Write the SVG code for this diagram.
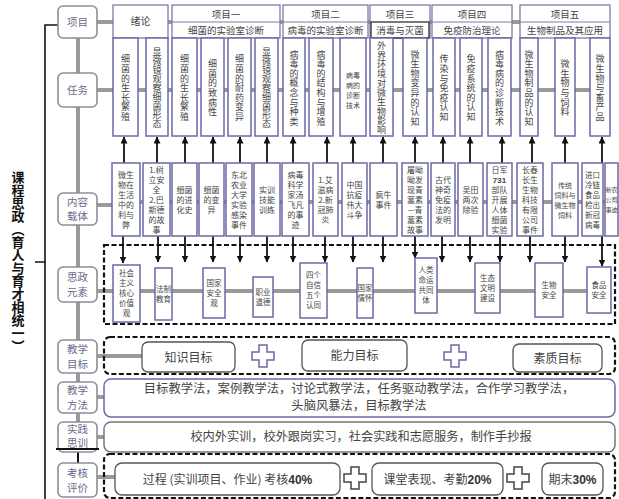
<svg xmlns="http://www.w3.org/2000/svg" width="619" height="499" viewBox="0 0 619 499">
<style>
.b{fill:#fff;stroke:#6b68a6;stroke-width:1.5}
.h{fill:#fff;stroke:#7d7aa8;stroke-width:1.3}
.n{fill:#fff;stroke:#8d8c9c;stroke-width:1.6}
.c{stroke:#9a9a9a;stroke-width:4;fill:none}
.a{stroke:#111;stroke-width:1.8;marker-end:url(#ah)}
.d{fill:none;stroke:#111;stroke-width:2.2;stroke-dasharray:5 2.5}
.k{fill:#fff;stroke:#555;stroke-width:1.3}
.t{font-family:"Noto Sans CJK SC","Noto Sans",sans-serif;fill:#444;text-anchor:middle}
.ln{font-family:"Noto Sans CJK SC","Noto Sans",sans-serif;fill:#6a6a8a;text-anchor:middle;font-size:10.5px}
.v{writing-mode:vertical-rl;font-size:9px;letter-spacing:0.6px}
.ct{font-size:8px}
.et{font-size:7.5px}
.pb{font-family:"Liberation Sans",Arial,sans-serif;font-weight:bold}
</style>
<defs>
<marker id="ah" markerUnits="userSpaceOnUse" markerWidth="7" markerHeight="7" refX="6.5" refY="3.5" orient="auto"><path d="M0,0 L7,3.5 L0,7 z" fill="#111"/></marker>
</defs>

<!-- title and brace -->
<g id="title">
<text x="18" y="262" font-family="'Noto Sans CJK SC',sans-serif" font-weight="bold" font-size="13" fill="#111" text-anchor="middle" style="writing-mode:vertical-rl">课程思政（育人与育才相统一）</text>
<path d="M58,25 H45 V499 M35,262 H45" fill="none" stroke="#111" stroke-width="1.6"/>
</g>

<!-- connectors -->
<g id="connectors">
<path class="c" d="M78,38 V449"/>
<path d="M78,449 V463 M56,449 H99" stroke="#111" stroke-width="2" fill="none"/>
<path class="c" d="M97,22 H520"/>
<path class="c" d="M97,90 H600"/>
<path class="c" d="M97,205 H112 M112,202 H605"/>
<path class="c" d="M97,291 H590"/>
<path class="c" d="M97,356 H142"/>
<path class="c" d="M97,397 H106"/>
<path class="c" d="M97,437 H106"/>
<path class="c" d="M97,477 H115"/>
<g id="up-arrows">
<line class="a" x1="124" y1="163" x2="124" y2="137"/>
<line class="a" x1="157" y1="163" x2="157" y2="137"/>
<line class="a" x1="185" y1="163" x2="185" y2="137"/>
<line class="a" x1="213" y1="163" x2="213" y2="137"/>
<line class="a" x1="240" y1="163" x2="240" y2="137"/>
<line class="a" x1="267" y1="163" x2="267" y2="137"/>
<line class="a" x1="293" y1="163" x2="293" y2="137"/>
<line class="a" x1="327" y1="163" x2="327" y2="137"/>
<line class="a" x1="353" y1="163" x2="353" y2="137"/>
<line class="a" x1="383" y1="163" x2="383" y2="137"/>
<line class="a" x1="415" y1="163" x2="415" y2="137"/>
<line class="a" x1="443" y1="163" x2="443" y2="137"/>
<line class="a" x1="470" y1="163" x2="470" y2="137"/>
<line class="a" x1="502" y1="163" x2="502" y2="137"/>
<line class="a" x1="532" y1="163" x2="532" y2="137"/>
<line class="a" x1="565" y1="163" x2="565" y2="137"/>
<line class="a" x1="602" y1="163" x2="602" y2="137"/>
</g>
<g id="down-arrows">
<line class="a" x1="123" y1="236" x2="123" y2="263"/>
<line class="a" x1="158" y1="236" x2="158" y2="262"/>
<line class="a" x1="185" y1="236" x2="185" y2="262"/>
<line class="a" x1="213" y1="236" x2="213" y2="262"/>
<line class="a" x1="240" y1="236" x2="240" y2="262"/>
<line class="a" x1="267" y1="236" x2="267" y2="262"/>
<line class="a" x1="293" y1="236" x2="293" y2="262"/>
<line class="a" x1="325" y1="236" x2="325" y2="262"/>
<line class="a" x1="353" y1="236" x2="353" y2="262"/>
<line class="a" x1="383" y1="236" x2="383" y2="262"/>
<line class="a" x1="415" y1="236" x2="415" y2="258"/>
<line class="a" x1="442" y1="236" x2="442" y2="262"/>
<line class="a" x1="470" y1="236" x2="470" y2="262"/>
<line class="a" x1="500" y1="236" x2="500" y2="262"/>
<line class="a" x1="530" y1="236" x2="530" y2="262"/>
<line class="a" x1="565" y1="236" x2="565" y2="262"/>
<line class="a" x1="602" y1="236" x2="602" y2="266"/>
</g>
</g>

<!-- left category nodes -->
<g id="n-xm"><rect class="n" x="58" y="6" width="39" height="32" rx="5"/><text class="ln" x="77.5" y="26">项目</text></g>
<g id="n-rw"><rect class="n" x="58" y="73" width="39" height="34" rx="5"/><text class="ln" x="77.5" y="94">任务</text></g>
<g id="n-nr"><rect class="n" x="58" y="193" width="39" height="32" rx="5"/><text class="ln" x="77.5" y="206">内容</text><text class="ln" x="77.5" y="220">载体</text></g>
<g id="n-sz"><rect class="n" x="58" y="267" width="39" height="35" rx="5"/><text class="ln" x="77.5" y="281">思政</text><text class="ln" x="77.5" y="296">元素</text></g>
<g id="n-mb"><rect class="n" x="58" y="340" width="39" height="33" rx="5"/><text class="ln" x="77.5" y="353">教学</text><text class="ln" x="77.5" y="368">目标</text></g>
<g id="n-ff"><rect class="n" x="58" y="382" width="39" height="31" rx="5"/><text class="ln" x="77.5" y="394">教学</text><text class="ln" x="77.5" y="409">方法</text></g>
<g id="n-sj"><rect class="n" x="58" y="422" width="39" height="30" rx="5"/><text class="ln" x="77.5" y="433"><tspan x="77.5">实践</tspan><tspan x="77.5" dy="14">思训</tspan></text></g>
<g id="n-kh"><rect class="n" x="58" y="463" width="39" height="34" rx="5"/><text class="ln" x="77.5" y="477">考核</text><text class="ln" x="77.5" y="492">评价</text></g>
<line x1="56" y1="449" x2="99" y2="449" stroke="#111" stroke-width="2"/>

<!-- project headers -->
<g id="h0"><rect class="h" x="113" y="5" width="55" height="33"/><text class="t" x="140.5" y="25" font-size="10">绪论</text></g>
<g id="h1"><rect class="h" x="172" y="5" width="108" height="33"/><line x1="172" y1="22" x2="280" y2="22" stroke="#7d7aa8"/><text class="t" x="226" y="18" font-size="9.5">项目一</text><text class="t" x="226" y="34" font-size="9.5">细菌的实验室诊断</text></g>
<g id="h2"><rect class="h" x="283" y="5" width="85" height="33"/><line x1="283" y1="22" x2="368" y2="22" stroke="#7d7aa8"/><text class="t" x="325.5" y="18" font-size="9.5">项目二</text><text class="t" x="325.5" y="34" font-size="9.5">病毒的实验室诊断</text></g>
<g id="h3"><rect class="h" x="370" y="5" width="60" height="33"/><rect x="371" y="22" width="58" height="16" fill="none" stroke="#333" stroke-width="1.3"/><text class="t" x="400" y="18" font-size="9.5">项目三</text><text class="t" x="400" y="34" font-size="9.5">消毒与灭菌</text></g>
<g id="h4"><rect class="h" x="432" y="5" width="80" height="33"/><line x1="432" y1="22" x2="512" y2="22" stroke="#7d7aa8"/><text class="t" x="472" y="18" font-size="9.5">项目四</text><text class="t" x="472" y="34" font-size="9.5">免疫防治理论</text></g>
<g id="h5"><rect class="h" x="520" y="5" width="90" height="33"/><line x1="520" y1="22" x2="610" y2="22" stroke="#7d7aa8"/><text class="t" x="565" y="18" font-size="9.5">项目五</text><text class="t" x="565" y="34" font-size="9.5">生物制品及其应用</text></g>

<!-- tasks -->
<g id="t1"><rect class="b" x="113" y="38" width="25" height="98"/><text class="t v" x="125.5" y="88">细菌的生长繁殖</text></g>
<g id="t2"><rect class="b" x="146" y="38" width="22" height="98"/><text class="t v" x="157" y="88" style="letter-spacing:0">显微镜观察细菌形态</text></g>
<g id="t3"><rect class="b" x="172" y="38" width="25" height="98"/><text class="t v" x="184.5" y="88">细菌的生长繁殖</text></g>
<g id="t4"><rect class="b" x="201" y="38" width="23" height="98"/><text class="t v" x="212.5" y="88">细菌的致病性</text></g>
<g id="t5"><rect class="b" x="228" y="38" width="23" height="98"/><text class="t v" x="239.5" y="88">细菌的耐药变异</text></g>
<g id="t6"><rect class="b" x="255" y="38" width="23" height="98"/><text class="t v" x="266.5" y="88" style="letter-spacing:0">显微镜观察细菌形态</text></g>
<g id="t7"><rect class="b" x="283" y="38" width="22" height="98"/><text class="t v" x="294" y="88">病毒的概念与种类</text></g>
<g id="t8"><rect class="b" x="309" y="38" width="24" height="98"/><text class="t v" x="321" y="88">病毒的结构与增殖</text></g>
<g id="t9"><rect class="b" x="340" y="38" width="26" height="98"/><text class="t" x="353" y="78" font-size="7"><tspan x="353">病毒</tspan><tspan x="353" dy="10">病的</tspan><tspan x="353" dy="10">诊断</tspan><tspan x="353" dy="10">技术</tspan></text></g>
<g id="t10"><rect class="b" x="370" y="38" width="23" height="98"/><text class="t v" x="381.5" y="88" style="letter-spacing:0.3px">外界环境对微生物影响</text></g>
<g id="t11"><rect class="b" x="403" y="38" width="24" height="98"/><text class="t v" x="415" y="88">微生物变异的认知</text></g>
<g id="t12"><rect class="b" x="433" y="38" width="22" height="98"/><text class="t v" x="444" y="88">传染与免疫认知</text></g>
<g id="t13"><rect class="b" x="460" y="38" width="22" height="98"/><text class="t v" x="471" y="88">免疫系统的认知</text></g>
<g id="t14"><rect class="b" x="488" y="38" width="23" height="98"/><text class="t v" x="499.5" y="88">病毒病的诊断技术</text></g>
<g id="t15"><rect class="b" x="520" y="38" width="18" height="98"/><text class="t v" x="529" y="88">微生物制品的认知</text></g>
<g id="t16"><rect class="b" x="555" y="38" width="20" height="98"/><text class="t v" x="565" y="88">微生物与饲料</text></g>
<g id="t17"><rect class="b" x="590" y="38" width="20" height="98"/><text class="t v" x="600" y="88">微生物与畜产品</text></g>

<!-- content carriers -->
<g id="c1"><rect class="b" x="112" y="163" width="28" height="73"/><text class="t ct" x="126" y="177.5"><tspan x="126">微生</tspan><tspan x="126" dy="10">物在</tspan><tspan x="126" dy="10">生活</tspan><tspan x="126" dy="10">中的</tspan><tspan x="126" dy="10">利与</tspan><tspan x="126" dy="10">弊</tspan></text></g>
<g id="c2"><rect class="b" x="143" y="163" width="27" height="73"/><text class="t ct" x="156.5" y="172.5"><tspan x="156.5">1.树</tspan><tspan x="156.5" dy="10">立安</tspan><tspan x="156.5" dy="10">全</tspan><tspan x="156.5" dy="10">2.巴</tspan><tspan x="156.5" dy="10">斯德</tspan><tspan x="156.5" dy="10">的故</tspan><tspan x="156.5" dy="10">事</tspan></text></g>
<g id="c3"><rect class="b" x="172" y="163" width="25" height="73"/><text class="t ct" x="184.5" y="192.5"><tspan x="184.5">细菌</tspan><tspan x="184.5" dy="10">的进</tspan><tspan x="184.5" dy="10">化史</tspan></text></g>
<g id="c4"><rect class="b" x="199" y="163" width="25" height="73"/><text class="t ct" x="211.5" y="192.5"><tspan x="211.5">细菌</tspan><tspan x="211.5" dy="10">的变</tspan><tspan x="211.5" dy="10">异</tspan></text></g>
<g id="c5"><rect class="b" x="226" y="163" width="26" height="73"/><text class="t ct" x="239" y="177.5"><tspan x="239">东北</tspan><tspan x="239" dy="10">农业</tspan><tspan x="239" dy="10">大学</tspan><tspan x="239" dy="10">实验</tspan><tspan x="239" dy="10">感染</tspan><tspan x="239" dy="10">事件</tspan></text></g>
<g id="c6"><rect class="b" x="254" y="163" width="26" height="73"/><text class="t ct" x="267" y="192.5"><tspan x="267">实训</tspan><tspan x="267" dy="10">技能</tspan><tspan x="267" dy="10">训练</tspan></text></g>
<g id="c7"><rect class="b" x="282" y="163" width="27" height="73"/><text class="t ct" x="295.5" y="177.5"><tspan x="295.5">病毒</tspan><tspan x="295.5" dy="10">科学</tspan><tspan x="295.5" dy="10">家汤</tspan><tspan x="295.5" dy="10">飞凡</tspan><tspan x="295.5" dy="10">的事</tspan><tspan x="295.5" dy="10">迹</tspan></text></g>
<g id="c8"><rect class="b" x="313" y="163" width="25" height="73"/><text class="t ct" x="325.5" y="182.5"><tspan x="325.5">1.艾</tspan><tspan x="325.5" dy="10">滋病</tspan><tspan x="325.5" dy="10">2.新</tspan><tspan x="325.5" dy="10">冠肺</tspan><tspan x="325.5" dy="10">炎</tspan></text></g>
<g id="c9"><rect class="b" x="342" y="163" width="25" height="73"/><text class="t ct" x="354.5" y="187.5"><tspan x="354.5">中国</tspan><tspan x="354.5" dy="10">抗疫</tspan><tspan x="354.5" dy="10">伟大</tspan><tspan x="354.5" dy="10">斗争</tspan></text></g>
<g id="c10"><rect class="b" x="370" y="163" width="27" height="73"/><text class="t ct" x="383.5" y="197.5"><tspan x="383.5">疯牛</tspan><tspan x="383.5" dy="10">事件</tspan></text></g>
<g id="c11"><rect class="b" x="402" y="163" width="26" height="73"/><text class="t ct" x="415" y="172.5"><tspan x="415">屠呦</tspan><tspan x="415" dy="10">呦发</tspan><tspan x="415" dy="10">现青</tspan><tspan x="415" dy="10">蒿素</tspan><tspan x="415" dy="10">—青</tspan><tspan x="415" dy="10">蒿素</tspan><tspan x="415" dy="10">故事</tspan></text></g>
<g id="c12"><rect class="b" x="431" y="163" width="24" height="73"/><text class="t ct" x="443" y="182.5"><tspan x="443">古代</tspan><tspan x="443" dy="10">神奇</tspan><tspan x="443" dy="10">免疫</tspan><tspan x="443" dy="10">法的</tspan><tspan x="443" dy="10">发明</tspan></text></g>
<g id="c13"><rect class="b" x="458" y="163" width="25" height="73"/><text class="t ct" x="470.5" y="192.5"><tspan x="470.5">吴田</tspan><tspan x="470.5" dy="10">两次</tspan><tspan x="470.5" dy="10">除验</tspan></text></g>
<g id="c14"><rect class="b" x="487" y="163" width="25" height="73"/><text class="t ct" x="499.5" y="172.5"><tspan x="499.5">日军</tspan><tspan x="499.5" dy="10" class="pb">731</tspan><tspan x="499.5" dy="10">部队</tspan><tspan x="499.5" dy="10">开展</tspan><tspan x="499.5" dy="10">人体</tspan><tspan x="499.5" dy="10">细菌</tspan><tspan x="499.5" dy="10">实验</tspan></text></g>
<g id="c15"><rect class="b" x="517" y="163" width="26" height="73"/><text class="t ct" x="530" y="172.5"><tspan x="530">长春</tspan><tspan x="530" dy="10">长生</tspan><tspan x="530" dy="10">生物</tspan><tspan x="530" dy="10">科技</tspan><tspan x="530" dy="10">有限</tspan><tspan x="530" dy="10">公司</tspan><tspan x="530" dy="10">事件</tspan></text></g>
<g id="c16"><rect class="b" x="552" y="163" width="26" height="73"/><text class="t" font-size="7" x="565" y="187.5"><tspan x="565">传统</tspan><tspan x="565" dy="10">饲料与</tspan><tspan x="565" dy="10">微生物</tspan><tspan x="565" dy="10">饲料</tspan></text></g>
<g id="c17"><rect class="b" x="582" y="163" width="21" height="73"/><text class="t" font-size="7.5" x="592.5" y="177.5"><tspan x="592.5">进口</tspan><tspan x="592.5" dy="10">冷链</tspan><tspan x="592.5" dy="10">食品</tspan><tspan x="592.5" dy="10">检出</tspan><tspan x="592.5" dy="10">新冠</tspan><tspan x="592.5" dy="10">病毒</tspan></text></g>
<g id="c18"><rect class="b" x="605" y="163" width="13" height="73"/><text class="t" font-size="6" x="611.5" y="192"><tspan x="611.5">新农</tspan><tspan x="611.5" dy="10">公司</tspan><tspan x="611.5" dy="10">事迹</tspan></text></g>

<!-- ideological elements -->
<rect class="d" x="104" y="245" width="511" height="79"/>
<g id="e1"><rect class="b" x="113" y="265" width="27" height="57"/><text class="t et" x="126.5" y="276.3"><tspan x="126.5">社会</tspan><tspan x="126.5" dy="10">主义</tspan><tspan x="126.5" dy="10">核心</tspan><tspan x="126.5" dy="10">价值</tspan><tspan x="126.5" dy="10">观</tspan></text></g>
<g id="e2"><rect class="b" x="155" y="268" width="17" height="52"/><text class="t et" x="163.5" y="291.8"><tspan x="163.5">法制</tspan><tspan x="163.5" dy="10">教育</tspan></text></g>
<g id="e3"><rect class="b" x="203" y="268" width="22" height="50"/><text class="t et" x="214" y="285.8"><tspan x="214">国家</tspan><tspan x="214" dy="10">安全</tspan><tspan x="214" dy="10">观</tspan></text></g>
<g id="e4"><rect class="b" x="253" y="277" width="20" height="40"/><text class="t et" x="263" y="294.8"><tspan x="263">职业</tspan><tspan x="263" dy="10">道德</tspan></text></g>
<g id="e5"><rect class="b" x="300" y="263" width="27" height="55"/><text class="t et" x="313.5" y="278.3"><tspan x="313.5">四个</tspan><tspan x="313.5" dy="10">自信</tspan><tspan x="313.5" dy="10">五个</tspan><tspan x="313.5" dy="10">认同</tspan></text></g>
<g id="e6"><rect class="b" x="357" y="268" width="16" height="50"/><text class="t et" x="365" y="290.8"><tspan x="365">国家</tspan><tspan x="365" dy="10">情怀</tspan></text></g>
<g id="e7"><rect class="b" x="415" y="258" width="22" height="55"/><text class="t et" x="426" y="273.3"><tspan x="426">人类</tspan><tspan x="426" dy="10">命运</tspan><tspan x="426" dy="10">共同</tspan><tspan x="426" dy="10">体</tspan></text></g>
<g id="e8"><rect class="b" x="475" y="263" width="25" height="50"/><text class="t et" x="487.5" y="280.8"><tspan x="487.5">生态</tspan><tspan x="487.5" dy="10">文明</tspan><tspan x="487.5" dy="10">建设</tspan></text></g>
<g id="e9"><rect class="b" x="535" y="263" width="28" height="54"/><text class="t et" x="549" y="287.8"><tspan x="549">生物</tspan><tspan x="549" dy="10">安全</tspan></text></g>
<g id="e10"><rect class="b" x="587" y="267" width="24" height="46"/><text class="t et" x="599" y="287.8"><tspan x="599">食品</tspan><tspan x="599" dy="10">安全</tspan></text></g>

<!-- teaching goals -->
<g id="goals">
<rect class="d" x="104" y="337" width="511" height="37" rx="6"/>
<rect class="k" x="142" y="342" width="93" height="30" rx="6"/><text class="t" x="188.5" y="361.5" font-size="12">知识目标</text>
<path d="M259,345 h8 v7 h7 v8 h-7 v7 h-8 v-7 h-7 v-8 h7 z" fill="#fff" stroke="#6b68a6" stroke-width="1.5"/>
<rect class="k" x="302" y="340" width="105" height="31" rx="6"/><text class="t" x="354.5" y="359.5" font-size="12">能力目标</text>
<path d="M451,345 h8 v7 h7 v8 h-7 v7 h-8 v-7 h-7 v-8 h7 z" fill="#fff" stroke="#6b68a6" stroke-width="1.5"/>
<rect class="k" x="513" y="344" width="89" height="28" rx="6"/><text class="t" x="557.5" y="362.5" font-size="12">素质目标</text>
</g>

<!-- methods -->
<g id="methods">
<rect x="104" y="379" width="511" height="38" rx="7" fill="#fff" stroke="#6b68a6" stroke-width="1.5"/>
<text class="t" x="359" y="393" font-size="12.3"><tspan x="359">目标教学法，案例教学法，讨论式教学法，任务驱动教学法，合作学习教学法，</tspan><tspan x="359" dy="17">头脑风暴法，目标教学法</tspan></text>
</g>

<!-- practice -->
<g id="practice">
<rect x="104" y="422" width="511" height="30" rx="7" fill="#fff" stroke="#777" stroke-width="1.5"/>
<text class="t" x="361" y="441" font-size="12.2">校内外实训，校外跟岗实习，社会实践和志愿服务，制作手抄报</text>
</g>

<!-- assessment -->
<g id="assess">
<rect class="d" x="104" y="454" width="511" height="44" rx="6"/>
<rect class="k" x="115" y="463" width="225" height="32" rx="7"/>
<text class="t" x="227.5" y="483.5" font-size="12">过程 (实训项目、作业) 考核<tspan class="pb" fill="#333">40%</tspan></text>
<path d="M351,467 h8 v7 h7 v8 h-7 v7 h-8 v-7 h-7 v-8 h7 z" fill="#fff" stroke="#444" stroke-width="1.5"/>
<rect class="k" x="372" y="463" width="131" height="32" rx="7"/>
<text class="t" x="437.5" y="483.5" font-size="12">课堂表现、考勤<tspan class="pb" fill="#333">20%</tspan></text>
<path d="M514,467 h8 v7 h7 v8 h-7 v7 h-8 v-7 h-7 v-8 h7 z" fill="#fff" stroke="#444" stroke-width="1.5"/>
<rect class="k" x="542" y="463" width="61" height="32" rx="7"/>
<text class="t" x="572.5" y="483.5" font-size="12">期末<tspan class="pb" fill="#333">30%</tspan></text>
</g>
</svg>
